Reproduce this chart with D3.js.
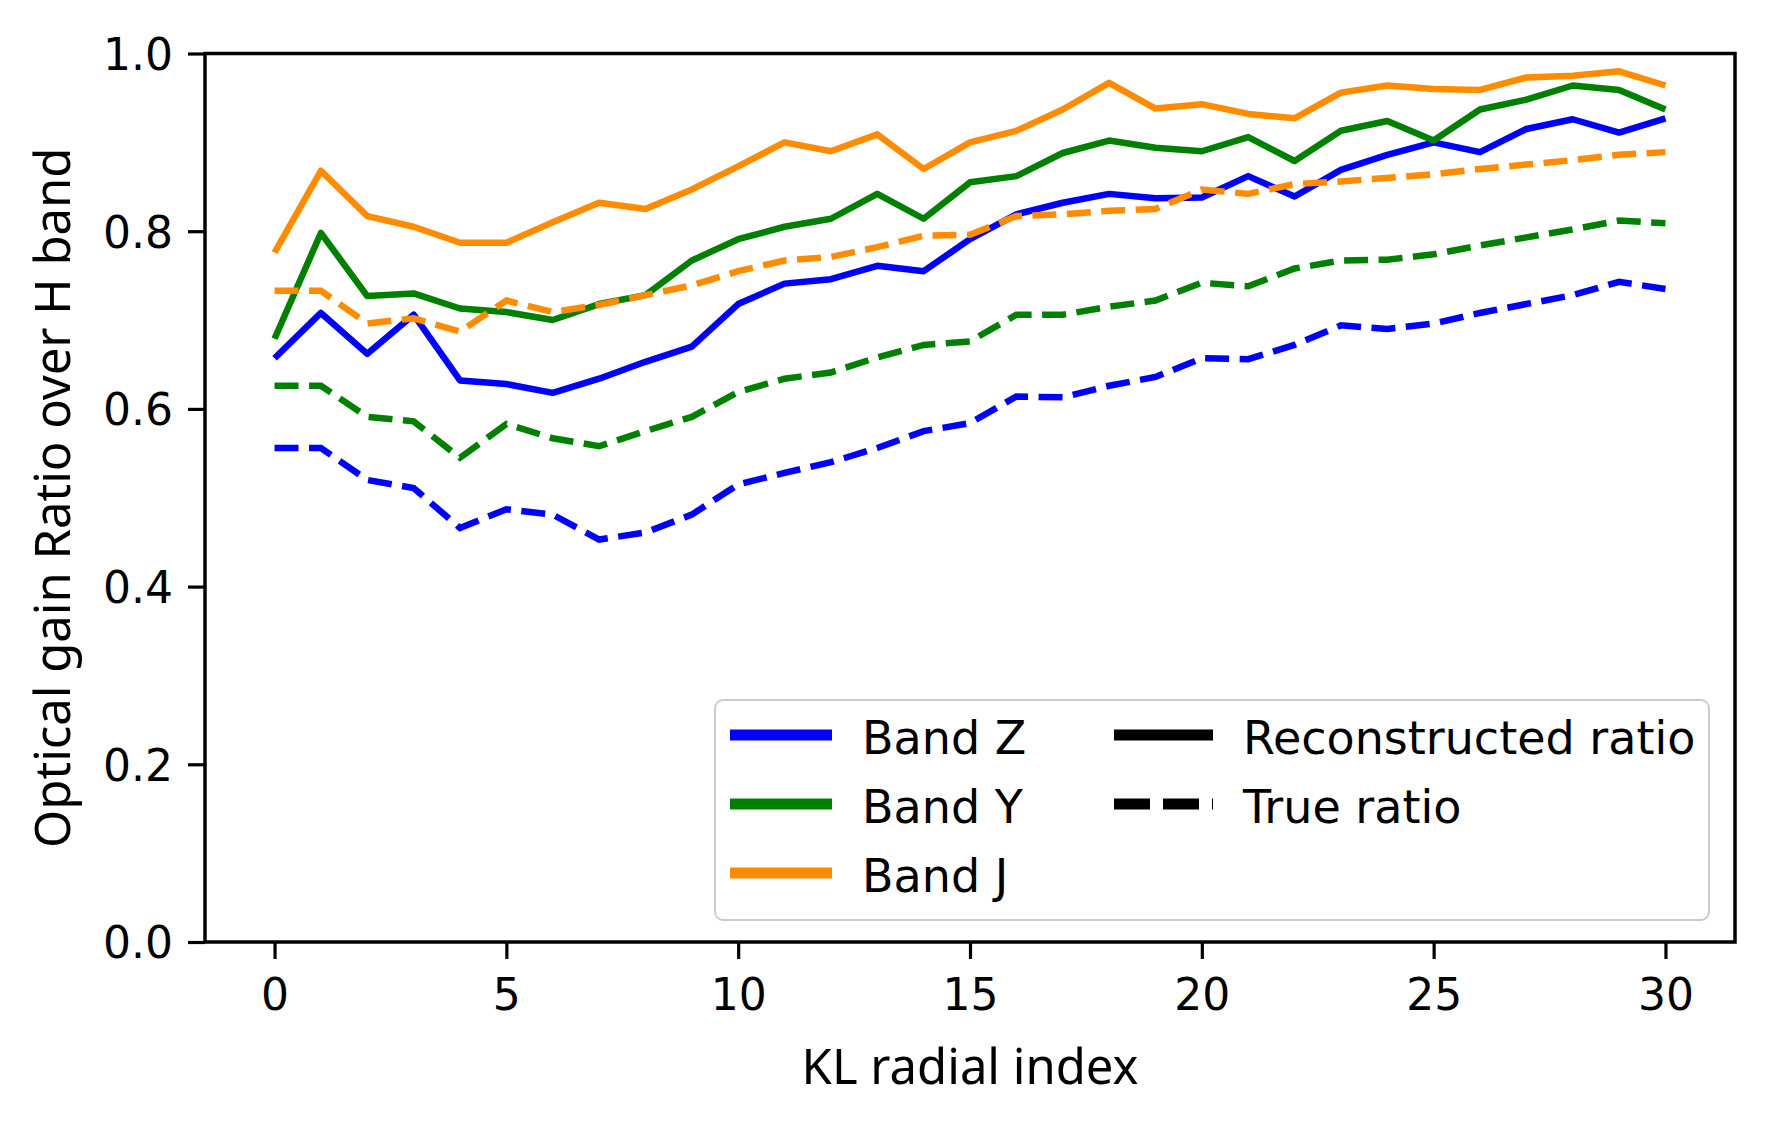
<!DOCTYPE html>
<html>
<head>
<meta charset="utf-8">
<script src="https://cdn.jsdelivr.net/npm/d3@7"></script>
<style>
  body { margin: 0; background: #fff; }
  svg { display: block; }
</style>
</head>
<body>
<svg id="chart" width="1769" height="1132"></svg>
<script>
// KL radial index
const radialIndex = [0,1,2,3,4,5,6,7,8,9,10,11,12,13,14,15,16,17,18,19,20,21,22,23,24,25,26,27,28,29,30];

// reconstructed ratios (solid)
const zRecon = [0.657,0.708,0.662,0.706,0.632,0.628,0.618,0.634,0.653,0.670,0.718,0.741,0.746,0.761,0.755,0.791,0.819,0.832,0.842,0.837,0.838,0.862,0.839,0.869,0.886,0.900,0.889,0.915,0.926,0.911,0.927];
const yRecon = [0.679,0.798,0.727,0.730,0.713,0.709,0.700,0.718,0.728,0.767,0.791,0.805,0.814,0.842,0.814,0.855,0.862,0.888,0.902,0.894,0.890,0.906,0.879,0.913,0.924,0.902,0.937,0.948,0.964,0.959,0.937];
const jRecon = [0.776,0.868,0.817,0.805,0.787,0.787,0.810,0.832,0.825,0.847,0.873,0.900,0.890,0.909,0.870,0.900,0.913,0.937,0.967,0.938,0.943,0.932,0.927,0.956,0.964,0.960,0.959,0.973,0.975,0.980,0.964];

// true ratios (dashed)
const zTrue = [0.556,0.556,0.520,0.511,0.466,0.487,0.481,0.453,0.461,0.481,0.515,0.528,0.540,0.556,0.575,0.584,0.614,0.613,0.626,0.636,0.657,0.656,0.672,0.694,0.690,0.696,0.708,0.718,0.728,0.743,0.735];
const yTrue = [0.626,0.626,0.591,0.586,0.545,0.583,0.567,0.558,0.575,0.591,0.619,0.634,0.641,0.658,0.672,0.676,0.706,0.706,0.715,0.722,0.742,0.738,0.758,0.767,0.768,0.774,0.784,0.793,0.802,0.812,0.809];
const jTrue = [0.733,0.733,0.696,0.702,0.687,0.722,0.709,0.717,0.728,0.739,0.755,0.767,0.771,0.782,0.795,0.796,0.817,0.819,0.823,0.825,0.847,0.842,0.853,0.856,0.860,0.864,0.870,0.875,0.880,0.886,0.889];

const bandNames = ['Band Z', 'Band Y', 'Band J'];
const bandColors = ['#0000ff', '#008000', '#ff8c00'];
const styleNames = ['Reconstructed ratio', 'True ratio'];
const xTicks = [0, 5, 10, 15, 20, 25, 30];
const yTicks = [0.0, 0.2, 0.4, 0.6, 0.8, 1.0];

const bands = [
  { name: bandNames[0], color: bandColors[0], recon: zRecon, truth: zTrue },
  { name: bandNames[1], color: bandColors[1], recon: yRecon, truth: yTrue },
  { name: bandNames[2], color: bandColors[2], recon: jRecon, truth: jTrue }
];

const svg = d3.select('#chart');
const margin = { left: 205, right: 1735, top: 53.5, bottom: 942 };

const xScale = d3.scaleLinear().domain([-1.5, 31.5]).range([margin.left, margin.right]);
const yScale = d3.scaleLinear().domain([0, 1]).range([margin.bottom, margin.top]);

const tickFont = 'DejaVu Sans, sans-serif';
const labelFont = '"Noto Sans", sans-serif';

const line = d3.line()
  .x((d, i) => xScale(radialIndex[i]))
  .y(d => yScale(d));

const plotG = svg.append('g').attr('class', 'plot');

for (let band of bands) {
  plotG.append('path')
    .attr('d', line(band.recon))
    .attr('fill', 'none')
    .attr('stroke', band.color)
    .attr('stroke-width', 6.5)
    .attr('stroke-linejoin', 'round');
  plotG.append('path')
    .attr('d', line(band.truth))
    .attr('fill', 'none')
    .attr('stroke', band.color)
    .attr('stroke-width', 6.5)
    .attr('stroke-dasharray', '24,10.5');
}

// axes
const axisConfig = g => {
  g.select('.domain').remove();
  g.selectAll('line').attr('stroke', '#000').attr('stroke-width', 3.2);
  g.selectAll('text')
    .attr('font-family', tickFont)
    .attr('font-size', 44)
    .attr('fill', '#000');
};

const xAxis = d3.axisBottom(xScale).tickValues(xTicks).tickFormat(d3.format('d'))
  .tickSize(17).tickPadding(20);
svg.append('g')
  .attr('transform', `translate(0, ${margin.bottom})`)
  .call(xAxis)
  .call(axisConfig);

const yAxis = d3.axisLeft(yScale).tickValues(yTicks).tickFormat(d3.format('.1f'))
  .tickSize(17).tickPadding(15);
svg.append('g')
  .attr('transform', `translate(${margin.left}, 0)`)
  .call(yAxis)
  .call(axisConfig)
  .selectAll('text').attr('dy', '0.36em');

// frame
svg.append('rect')
  .attr('x', margin.left)
  .attr('y', margin.top)
  .attr('width', margin.right - margin.left)
  .attr('height', margin.bottom - margin.top)
  .attr('fill', 'none')
  .attr('stroke', '#000')
  .attr('stroke-width', 3.5);

// axis labels
svg.append('text')
  .attr('x', (margin.left + margin.right) / 2)
  .attr('y', 1084)
  .attr('text-anchor', 'middle')
  .attr('font-family', labelFont)
  .attr('font-size', 49)
  .attr('fill', '#000')
  .text('KL radial index');

svg.append('text')
  .attr('transform', `translate(70, ${(margin.top + margin.bottom) / 2}) rotate(-90)`)
  .attr('text-anchor', 'middle')
  .attr('font-family', labelFont)
  .attr('font-size', 49)
  .attr('fill', '#000')
  .text('Optical gain Ratio over H band');

// legend
const legendG = svg.append('g').attr('class', 'legend');
legendG.append('rect')
  .attr('x', 715).attr('y', 700)
  .attr('width', 994).attr('height', 220)
  .attr('rx', 8)
  .attr('fill', '#fff').attr('fill-opacity', 0.8)
  .attr('stroke', '#cccccc').attr('stroke-width', 2);

const rowY = [735, 804, 873];
const legendFontSize = 46;

bands.forEach((band, i) => {
  legendG.append('line')
    .attr('x1', 730).attr('x2', 832)
    .attr('y1', rowY[i]).attr('y2', rowY[i])
    .attr('stroke', band.color).attr('stroke-width', 11);
  legendG.append('text')
    .attr('x', 862).attr('y', rowY[i] + 19)
    .attr('font-family', tickFont).attr('font-size', legendFontSize)
    .attr('fill', '#000')
    .text(band.name);
});

styleNames.forEach((name, i) => {
  legendG.append('line')
    .attr('x1', 1114).attr('x2', 1213)
    .attr('y1', rowY[i]).attr('y2', rowY[i])
    .attr('stroke', '#000').attr('stroke-width', 11)
    .attr('stroke-dasharray', i === 1 ? '36,13' : null);
  legendG.append('text')
    .attr('x', 1243).attr('y', rowY[i] + 19)
    .attr('font-family', tickFont).attr('font-size', legendFontSize)
    .attr('fill', '#000')
    .text(name);
});
</script>
</body>
</html>
